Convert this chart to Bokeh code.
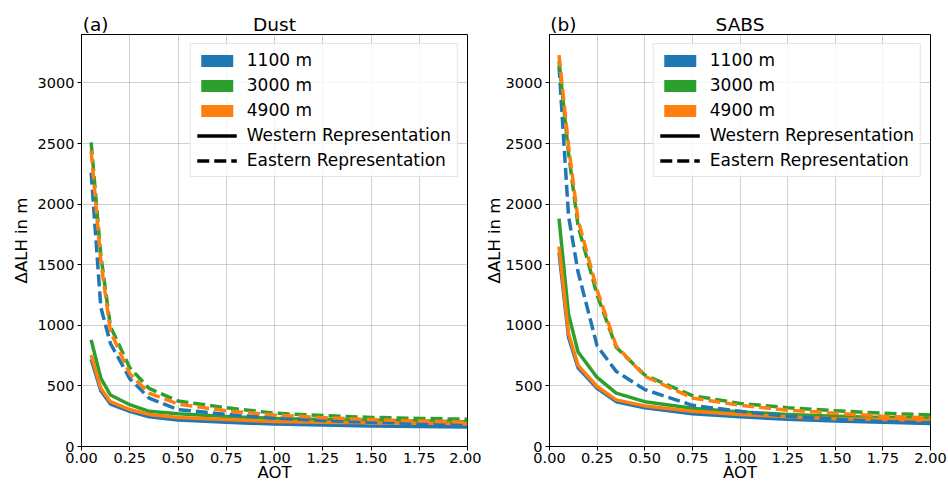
from bokeh.plotting import figure
from bokeh.models import Range1d, FixedTicker, Legend, LegendItem, LinearAxis
from bokeh.layouts import row
from bokeh.embed import file_html
from bokeh.resources import INLINE

# ---------------- data ----------------
aot = [0.05, 0.1, 0.15, 0.25, 0.35, 0.5, 0.75, 1.0, 1.25, 1.5, 1.75, 2.0]

dust_w_1100 = [720, 460, 350, 290, 245, 218, 200, 185, 177, 170, 165, 160]
dust_w_3000 = [880, 565, 425, 345, 290, 270, 248, 232, 222, 215, 210, 205]
dust_w_4900 = [755, 480, 370, 305, 265, 240, 222, 207, 200, 195, 192, 190]
dust_e_1100 = [2260, 1150, 850, 560, 400, 305, 265, 235, 215, 200, 190, 185]
dust_e_3000 = [2510, 1580, 990, 650, 480, 375, 320, 275, 255, 240, 232, 225]
dust_e_4900 = [2440, 1530, 950, 600, 440, 350, 295, 260, 238, 222, 210, 200]

sabs_w_1100 = [1600, 900, 650, 480, 370, 320, 270, 245, 225, 210, 200, 190]
sabs_w_3000 = [1880, 1090, 780, 570, 440, 370, 315, 285, 265, 250, 240, 235]
sabs_w_4900 = [1650, 930, 670, 495, 385, 335, 290, 265, 245, 230, 222, 215]
sabs_e_1100 = [3140, 1900, 1440, 830, 620, 470, 340, 290, 250, 225, 205, 195]
sabs_e_3000 = [3180, 2420, 1820, 1250, 820, 590, 420, 355, 320, 295, 275, 260]
sabs_e_4900 = [3230, 2480, 1870, 1290, 830, 580, 400, 340, 300, 275, 250, 235]

heights = ["1100 m", "3000 m", "4900 m"]
representations = ["Western Representation", "Eastern Representation"]
colors = ["#1f77b4", "#2ca02c", "#ff7f0e"]

x_ticks = [0.0, 0.25, 0.5, 0.75, 1.0, 1.25, 1.5, 1.75, 2.0]
x_tick_labels = ["0.00", "0.25", "0.50", "0.75", "1.00", "1.25", "1.50", "1.75", "2.00"]
y_ticks = [0, 500, 1000, 1500, 2000, 2500, 3000]
y_tick_labels = ["0", "500", "1000", "1500", "2000", "2500", "3000"]

FONT = "DejaVu Sans"
LW = 3.5
DASH = "12 5"
NAN = float("nan")


def style_axis(ax, size="14.5px"):
    ax.major_label_text_font = FONT
    ax.major_label_text_font_size = size
    ax.major_label_text_color = "black"
    ax.axis_label_text_font = FONT
    ax.axis_label_text_font_size = "16.5px"
    ax.axis_label_text_font_style = "normal"
    ax.axis_label_text_color = "black"
    ax.axis_line_color = "black"
    ax.major_tick_line_color = "black"
    ax.major_tick_out = 4
    ax.major_tick_in = 0
    ax.minor_tick_out = 0
    ax.minor_tick_in = 0


def make_panel(title, tag, west, east, width, border_left, border_right, ylabel_standoff):
    p = figure(width=width, height=486,
               x_range=Range1d(0, 2), y_range=Range1d(0, 3400),
               output_backend="svg", toolbar_location=None,
               min_border_left=border_left, min_border_right=border_right,
               min_border_top=34, min_border_bottom=40)
    p.background_fill_color = "white"
    p.border_fill_color = "white"
    p.outline_line_color = "black"
    p.outline_line_width = 1
    p.outline_line_alpha = 1

    xax = p.below[0]
    yax = p.left[0]
    style_axis(xax)
    style_axis(yax)
    xax.ticker = FixedTicker(ticks=x_ticks)
    xax.major_label_overrides = {t: s for t, s in zip(x_ticks, x_tick_labels)}
    xax.major_label_standoff = 2
    xax.axis_label = "AOT"
    xax.axis_label_standoff = -3
    yax.ticker = FixedTicker(ticks=y_ticks)
    yax.major_label_overrides = {t: s for t, s in zip(y_ticks, y_tick_labels)}
    yax.major_label_standoff = 3
    yax.axis_label = "\u0394ALH in m"
    yax.axis_label_standoff = ylabel_standoff

    p.xgrid.grid_line_color = "#b0b0b0"
    p.ygrid.grid_line_color = "#b0b0b0"
    p.xgrid.grid_line_alpha = 0.6
    p.ygrid.grid_line_alpha = 0.6
    p.xgrid.grid_line_width = 1
    p.ygrid.grid_line_width = 1

    # panel tag and title on one line above the frame
    title_pos = [0.073, 1.0]
    top = LinearAxis(ticker=FixedTicker(ticks=title_pos),
                     major_label_overrides={title_pos[0]: tag, title_pos[1]: title})
    style_axis(top, size="18.5px")
    top.axis_line_color = None
    top.major_tick_line_color = None
    top.major_tick_out = 0
    top.major_label_standoff = 0
    p.add_layout(top, "above")

    for ys, c in zip(west, colors):
        p.line(aot, ys, line_color=c, line_width=LW, line_join="round")
    for ys, c in zip(east, colors):
        p.line(aot, ys, line_color=c, line_width=LW, line_dash=DASH, line_join="round")

    items = []
    for name, c in zip(heights, colors):
        r = p.quad(left=[NAN], right=[NAN], top=[NAN], bottom=[NAN],
                   fill_color=c, line_color=None)
        items.append(LegendItem(label=name, renderers=[r]))
    r_w = p.line([NAN], [NAN], line_color="black", line_width=LW)
    r_e = p.line([NAN], [NAN], line_color="black", line_width=LW, line_dash=DASH)
    items.append(LegendItem(label=representations[0], renderers=[r_w]))
    items.append(LegendItem(label=representations[1], renderers=[r_e]))

    legend = Legend(items=items, location="top_right",
                    label_text_font=FONT, label_text_font_size="17px",
                    label_text_color="black",
                    glyph_width=40, glyph_height=15, label_height=20,
                    label_standoff=10, spacing=5, padding=6, margin=9,
                    border_line_color="#cccccc", border_line_width=1,
                    background_fill_color="white", background_fill_alpha=0.8)
    p.add_layout(legend)
    return p


p1 = make_panel("Dust", "(a)", [dust_w_1100, dust_w_3000, dust_w_4900],
                [dust_e_1100, dust_e_3000, dust_e_4900], 481, 81, 14, 4)
p2 = make_panel("SABS", "(b)", [sabs_w_1100, sabs_w_3000, sabs_w_4900],
                [sabs_e_1100, sabs_e_3000, sabs_e_4900], 467, 63, 18, -1)

layout = row(p1, p2)
open("out.html", "w").write(file_html(layout, INLINE))
